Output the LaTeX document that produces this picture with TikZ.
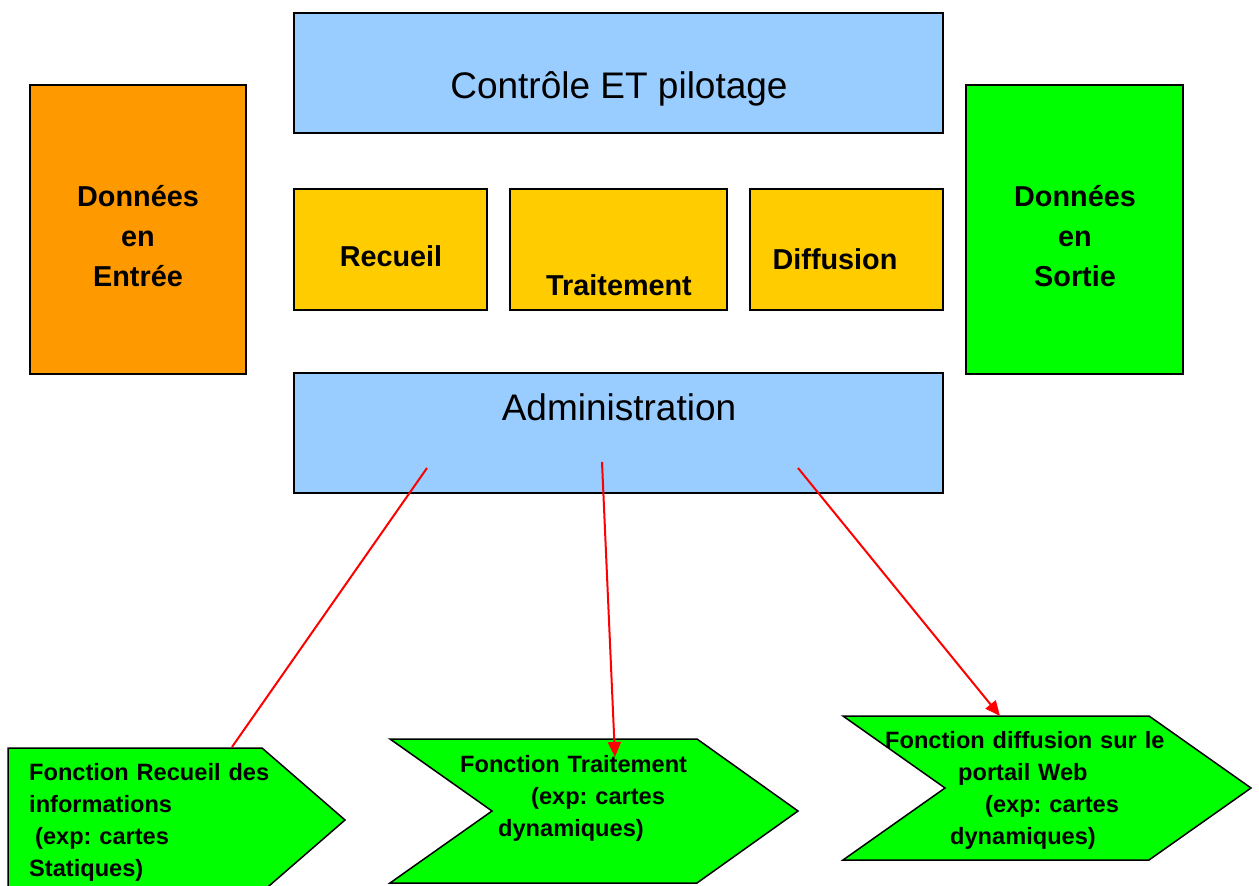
\documentclass[tikz,border=0pt]{standalone}
\usepackage{fontspec}
\setmainfont{Liberation Sans}
\usetikzlibrary{arrows.meta}
\frenchspacing
\definecolor{lblue}{HTML}{99CCFF}
\definecolor{lorange}{HTML}{FF9900}
\definecolor{lyellow}{HTML}{FFCC00}
\definecolor{lgreen}{HTML}{00FF00}
\tikzset{
  box/.style={draw=black,line width=1.5pt,inner sep=0pt},
  bigtxt/.style={inner sep=0pt,anchor=base,font=\fontsize{37}{44}\selectfont},
  boldtxt/.style={inner sep=0pt,anchor=base,text width=200pt,align=center,font=\fontsize{28.8}{40}\selectfont\bfseries},
  smalltxt/.style={inner sep=0pt,anchor=base west,text width=360pt,align=left,font=\fontsize{23.6}{32.3}\selectfont\bfseries},
  chev/.style={draw=black,line width=1.5pt,fill=lgreen,line join=miter},
  link/.style={draw=red,line width=2pt},
  linkarrow/.style={link,-{Triangle[length=15pt,width=13pt]}}
}
\begin{document}
\begin{tikzpicture}[x=1pt,y=-1pt]
\useasboundingbox (0,0) rectangle (1259,886);
\clip (0,0) rectangle (1259,886);
% top control box
\node[box,fill=lblue,minimum width=649pt,minimum height=120pt] (ctrl) at (618.5,73) {};
\node[bigtxt] (ctrlt) at (619,98) {Contrôle ET pilotage};
% input/output
\node[box,fill=lorange,minimum width=216pt,minimum height=289pt] (ent) at (138,229.5) {};
\node[boldtxt] (entt) at (138,206) {Données\\en\\Entrée};
\node[box,fill=lgreen,minimum width=217pt,minimum height=289pt] (sor) at (1074.5,229.5) {};
\node[boldtxt] (sort) at (1075,206) {Données\\en\\Sortie};
% middle boxes
\node[box,fill=lyellow,minimum width=193pt,minimum height=121pt] (rec) at (390.5,249.5) {};
\node[boldtxt] (rect) at (391,266) {Recueil};
\node[box,fill=lyellow,minimum width=217pt,minimum height=121pt] (tra) at (618.5,249.5) {};
\node[boldtxt] (trat) at (619,295) {Traitement};
\node[box,fill=lyellow,minimum width=193pt,minimum height=121pt] (dif) at (846.5,249.5) {};
\node[boldtxt] (dift) at (835,269) {Diffusion};
% administration
\node[box,fill=lblue,minimum width=649pt,minimum height=120pt] (adm) at (618.5,433) {};
\node[bigtxt] (admt) at (619,420) {Administration};
% chevrons
\draw[chev] (8,748) coordinate (c1tl) -- (262,748) coordinate (c1tr) -- (345,820) -- (262,892) -- (8,892) -- cycle;
\draw[chev] (390,739) coordinate (c2tl) -- (697,739) -- (798,811) -- (697,883) -- (390,883) -- (492,811) -- cycle;
\draw[chev] (843,716) coordinate (c3tl) -- (1149,716) -- (1251,788) -- (1149,860) -- (843,860) -- (945,788) -- cycle;
\node[smalltxt] (f1) at (29,780) {Fonction Recueil des\\informations\\\hspace*{6pt}(exp: cartes\\Statiques)};
\node[smalltxt] (f2) at (460,772) {Fonction Traitement\\\hspace*{71pt}(exp: cartes\\\hspace*{38pt}dynamiques)};
\node[smalltxt] (f3) at (885,748) {Fonction diffusion sur le\\\hspace*{73pt}portail Web\\\hspace*{100pt}(exp: cartes\\\hspace*{65pt}dynamiques)};
% connectors
\coordinate (a1) at (427,468);
\coordinate (a2) at (602,462);
\coordinate (a3) at (798,468);
\coordinate (e1) at (232,747);
\coordinate (e2) at (615,757);
\coordinate (e3) at (1000,716);
\draw[link] (a1) -- (e1);
\draw[linkarrow] (a2) -- (e2);
\draw[linkarrow] (a3) -- (e3);
\end{tikzpicture}
\end{document}
